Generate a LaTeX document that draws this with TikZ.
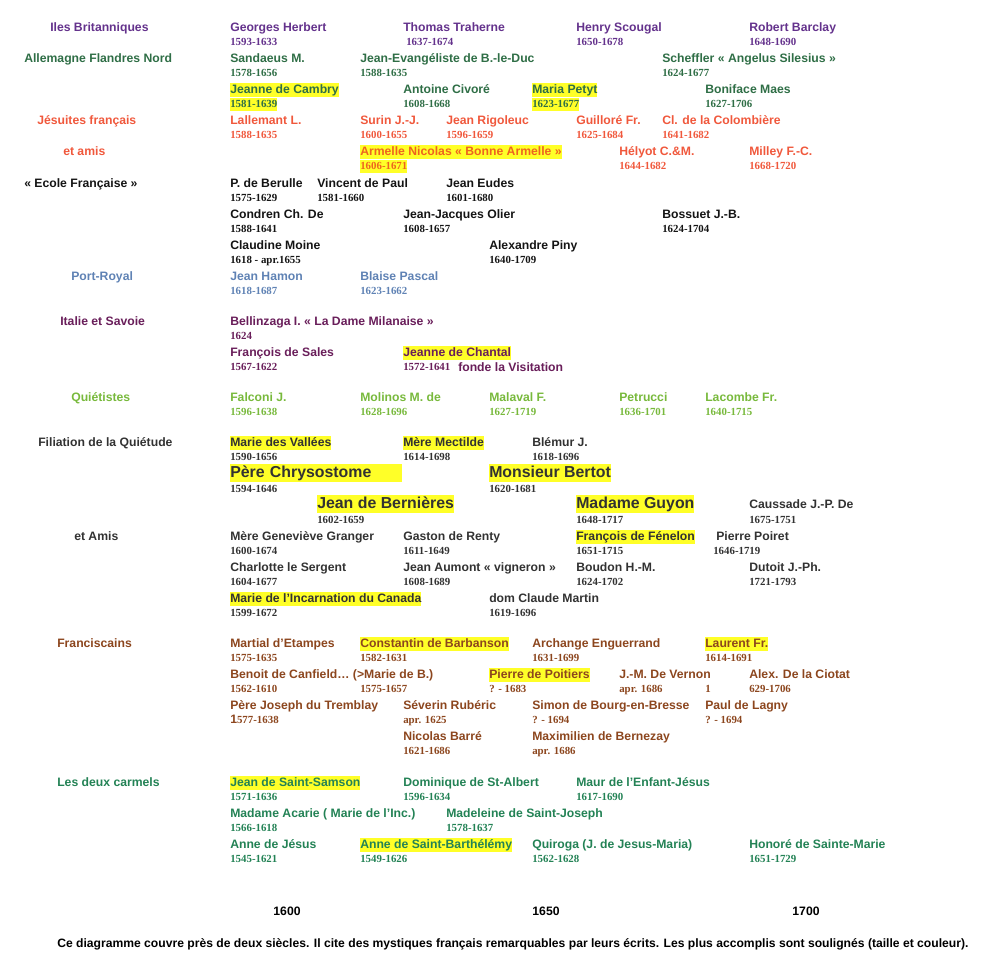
\documentclass[tikz,border=0pt]{standalone}
\usepackage{fontspec}
\setmainfont{Liberation Serif}
\setsansfont{Liberation Sans}
\definecolor{cIles}{RGB}{100,50,140}
\definecolor{cAll}{RGB}{47,110,70}
\definecolor{cJes}{RGB}{240,88,60}
\definecolor{cArm}{RGB}{238,100,30}
\definecolor{cEc}{RGB}{20,20,20}
\definecolor{cPR}{RGB}{95,130,180}
\definecolor{cIt}{RGB}{105,30,90}
\definecolor{cQ}{RGB}{120,185,60}
\definecolor{cFil}{RGB}{50,50,50}
\definecolor{cFr}{RGB}{140,70,30}
\definecolor{cCar}{RGB}{35,130,85}
\definecolor{hlyel}{RGB}{255,255,40}
\tikzset{
  nm/.style={anchor=west, inner sep=0pt, font=\sffamily\bfseries\fontsize{9.15}{11}\selectfont, text height=8.3pt, text depth=2.7pt},
  bignm/.style={anchor=west, inner sep=0pt, font=\sffamily\bfseries\fontsize{11.9}{14}\selectfont, text height=10.5pt, text depth=3.5pt},
  dt/.style={anchor=west, inner sep=0pt, font=\rmfamily\bfseries\fontsize{8.15}{10}\selectfont, text height=7.3pt, text depth=2.5pt},
  hl/.style={fill=hlyel},
  yr/.style={anchor=center, inner sep=0pt, text=black, font=\sffamily\bfseries\fontsize{9.15}{11}\selectfont}
}
\newcommand\persn[6][]{\node[nm,#1] (#2) at (#3,#4) {#5};\node[dt] (#2d) at (#3,#4+14.5) {#6};}
\newcommand\persh[5]{\node[nm,hl] (#1) at (#2,#3) {#4};\node[dt,hl] (#1d) at (#2,#3+14.5) {#5};}
\begin{document}
\begin{tikzpicture}[x=0.75pt,y=-0.75pt]
\useasboundingbox (0,-1) rectangle (999,974);
% Iles Britanniques
\begin{scope}[text=cIles]
\node[nm] (catIles) at (50,27) {Iles Britanniques};
\persn{herbert}{230}{27}{Georges Herbert}{1593-1633}
\node[nm] (traherne) at (403,27) {Thomas Traherne};
\node[dt] (traherned) at (406,41.5) {1637-1674};
\persn{scougal}{576}{27}{Henry Scougal}{1650-1678}
\persn{barclay}{749}{27}{Robert Barclay}{1648-1690}
\end{scope}
% Allemagne
\begin{scope}[text=cAll]
\node[nm] (catAll) at (24,58) {Allemagne Flandres Nord};
\persn{sandaeus}{230}{58}{Sandaeus M.}{1578-1656}
\persn{jeanev}{360}{58}{Jean-Evangéliste de B.-le-Duc}{1588-1635}
\persn{scheffler}{662}{58}{Scheffler « Angelus Silesius »}{1624-1677}
\persh{cambry}{230}{89}{Jeanne de Cambry}{1581-1639}
\persn{civore}{403}{89}{Antoine Civoré}{1608-1668}
\persh{petyt}{532}{89}{Maria Petyt}{1623-1677}
\persn{maes}{705}{89}{Boniface Maes}{1627-1706}
\end{scope}
% Jesuites
\begin{scope}[text=cJes]
\node[nm] (catJes) at (37,120) {Jésuites français};
\node[nm] (catJes2) at (63,151) {et amis};
\persn{lallemant}{230}{120}{Lallemant L.}{1588-1635}
\persn{surin}{360}{120}{Surin J.-J.}{1600-1655}
\persn{rigoleuc}{446}{120}{Jean Rigoleuc}{1596-1659}
\persn{guillore}{576}{120}{Guilloré Fr.}{1625-1684}
\persn{colombiere}{662}{120}{Cl. de la Colombière}{1641-1682}
\begin{scope}[text=cArm]
\persh{armelle}{360}{151}{Armelle Nicolas « Bonne Armelle »}{1606-1671}
\end{scope}
\persn{helyot}{619}{151}{Hélyot C.\&M.}{1644-1682}
\persn{milley}{749}{151}{Milley F.-C.}{1668-1720}
\end{scope}
% Ecole francaise
\begin{scope}[text=cEc]
\node[nm] (catEc) at (24,183) {« Ecole Française »};
\persn{berulle}{230}{183}{P. de Berulle}{1575-1629}
\persn{vincent}{317}{183}{Vincent de Paul}{1581-1660}
\persn{eudes}{446}{183}{Jean Eudes}{1601-1680}
\persn{condren}{230}{214}{Condren Ch. De}{1588-1641}
\persn{olier}{403}{214}{Jean-Jacques Olier}{1608-1657}
\persn{bossuet}{662}{214}{Bossuet J.-B.}{1624-1704}
\persn{moine}{230}{245}{Claudine Moine}{1618 - apr.1655}
\persn{piny}{489}{245}{Alexandre Piny}{1640-1709}
\end{scope}
% Port-Royal
\begin{scope}[text=cPR]
\node[nm] (catPR) at (71,276) {Port-Royal};
\persn{hamon}{230}{276}{Jean Hamon}{1618-1687}
\persn{pascal}{360}{276}{Blaise Pascal}{1623-1662}
\end{scope}
% Italie et Savoie
\begin{scope}[text=cIt]
\node[nm] (catIt) at (60,321) {Italie et Savoie};
\persn{bellinzaga}{230}{321}{Bellinzaga I. « La Dame Milanaise »}{1624}
\persn{sales}{230}{352}{François de Sales}{1567-1622}
\node[nm,hl] (chantal) at (403,352) {Jeanne de Chantal};
\node[dt] (chantald) at (403,366.5) {1572-1641};
\node[nm] (visitation) at (458,366.5) {fonde la Visitation};
\end{scope}
% Quietistes
\begin{scope}[text=cQ]
\node[nm] (catQ) at (71,397) {Quiétistes};
\persn{falconi}{230}{397}{Falconi J.}{1596-1638}
\persn{molinos}{360}{397}{Molinos M. de}{1628-1696}
\persn{malaval}{489}{397}{Malaval F.}{1627-1719}
\persn{petrucci}{619}{397}{Petrucci}{1636-1701}
\persn{lacombe}{705}{397}{Lacombe Fr.}{1640-1715}
\end{scope}
% Filiation de la Quietude
\begin{scope}[text=cFil]
\node[nm] (catFil) at (38,442) {Filiation de la Quiétude};
\node[nm] (catFil2) at (74,536) {et Amis};
\persn[hl]{vallees}{230}{442}{Marie des Vallées}{1590-1656}
\persn[hl]{mectilde}{403}{442}{Mère Mectilde}{1614-1698}
\persn{blemur}{532}{442}{Blémur J.}{1618-1696}
\node[bignm,hl,text width=172*0.75pt,align=left] (chrysostome) at (230,472) {Père Chrysostome};
\node[dt] (chrysostomed) at (230,488) {1594-1646};
\node[bignm,hl] (bertot) at (489,472) {Monsieur Bertot};
\node[dt] (bertotd) at (489,488) {1620-1681};
\node[bignm,hl] (bernieres) at (317,503) {Jean de Bernières};
\node[dt] (bernieresd) at (317,519) {1602-1659};
\node[bignm,hl] (guyon) at (576,503) {Madame Guyon};
\node[dt] (guyond) at (576,519) {1648-1717};
\node[nm] (caussade) at (749,504) {Caussade J.-P. De};
\node[dt] (caussaded) at (749,519) {1675-1751};
\persn{granger}{230}{536}{Mère Geneviève Granger}{1600-1674}
\persn{renty}{403}{536}{Gaston de Renty}{1611-1649}
\persn[hl]{fenelon}{576}{536}{François de Fénelon}{1651-1715}
\node[nm] (poiret) at (716,536) {Pierre Poiret};
\node[dt] (poiretd) at (713,550.5) {1646-1719};
\persn{sergent}{230}{567}{Charlotte le Sergent}{1604-1677}
\persn{aumont}{403}{567}{Jean Aumont « vigneron »}{1608-1689}
\persn{boudon}{576}{567}{Boudon H.-M.}{1624-1702}
\persn{dutoit}{749}{567}{Dutoit J.-Ph.}{1721-1793}
\persn[hl]{incarnation}{230}{598}{Marie de l’Incarnation du Canada}{1599-1672}
\persn{martin}{489}{598}{dom Claude Martin}{1619-1696}
\end{scope}
% Franciscains
\begin{scope}[text=cFr]
\node[nm] (catFr) at (57,643) {Franciscains};
\persn{etampes}{230}{643}{Martial d’Etampes}{1575-1635}
\persn[hl]{barbanson}{360}{643}{Constantin de Barbanson}{1582-1631}
\persn{enguerrand}{532}{643}{Archange Enguerrand}{1631-1699}
\persn[hl]{laurent}{705}{643}{Laurent Fr.}{1614-1691}
\persn{canfield}{230}{674}{Benoit de Canfield… (>Marie de B.)}{1562-1610}
\node[dt] (marieb) at (360,688.5) {1575-1657};
\persn[hl]{poitiers}{489}{674}{Pierre de Poitiers}{? - 1683}
\persn{vernon}{619}{674}{J.-M. De Vernon}{apr. 1686}
\node[dt] (vernon2) at (705,688.5) {1};
\persn{ciotat}{749}{674}{Alex. De la Ciotat}{629-1706}
\node[nm] (tremblay) at (230,705) {Père Joseph du Tremblay};
\node[dt] (tremblayd) at (230,719.5) {{\sffamily\fontsize{9.15}{11}\selectfont 1}577-1638};
\persn{ruberic}{403}{705}{Séverin Rubéric}{apr. 1625}
\persn{bourg}{532}{705}{Simon de Bourg-en-Bresse}{? - 1694}
\persn{lagny}{705}{705}{Paul de Lagny}{? - 1694}
\persn{barre}{403}{736}{Nicolas Barré}{1621-1686}
\persn{bernezay}{532}{736}{Maximilien de Bernezay}{apr. 1686}
\end{scope}
% Carmels
\begin{scope}[text=cCar]
\node[nm] (catCar) at (57,782) {Les deux carmels};
\persn[hl]{samson}{230}{782}{Jean de Saint-Samson}{1571-1636}
\persn{stalbert}{403}{782}{Dominique de St-Albert}{1596-1634}
\persn{maur}{576}{782}{Maur de l’Enfant-Jésus}{1617-1690}
\persn{acarie}{230}{813}{Madame Acarie ( Marie de l'Inc.)}{1566-1618}
\persn{madeleine}{446}{813}{Madeleine de Saint-Joseph}{1578-1637}
\persn{annejesus}{230}{844}{Anne de Jésus}{1545-1621}
\persn[hl]{barthelemy}{360}{844}{Anne de Saint-Barthélémy}{1549-1626}
\persn{quiroga}{532}{844}{Quiroga (J. de Jesus-Maria)}{1562-1628}
\persn{honore}{749}{844}{Honoré de Sainte-Marie}{1651-1729}
\end{scope}
% years
\node[yr] (y1600) at (287,910) {1600};
\node[yr] (y1650) at (546,910) {1650};
\node[yr] (y1700) at (806,910) {1700};
% caption
\node[anchor=west, inner sep=0pt, text=black, font=\sffamily\bfseries\fontsize{9.1}{11}\selectfont] (caption) at (57,943) {Ce diagramme couvre près de deux siècles. Il cite des mystiques français remarquables par leurs écrits. Les plus accomplis sont soulignés (taille et couleur).};
\end{tikzpicture}
\end{document}
